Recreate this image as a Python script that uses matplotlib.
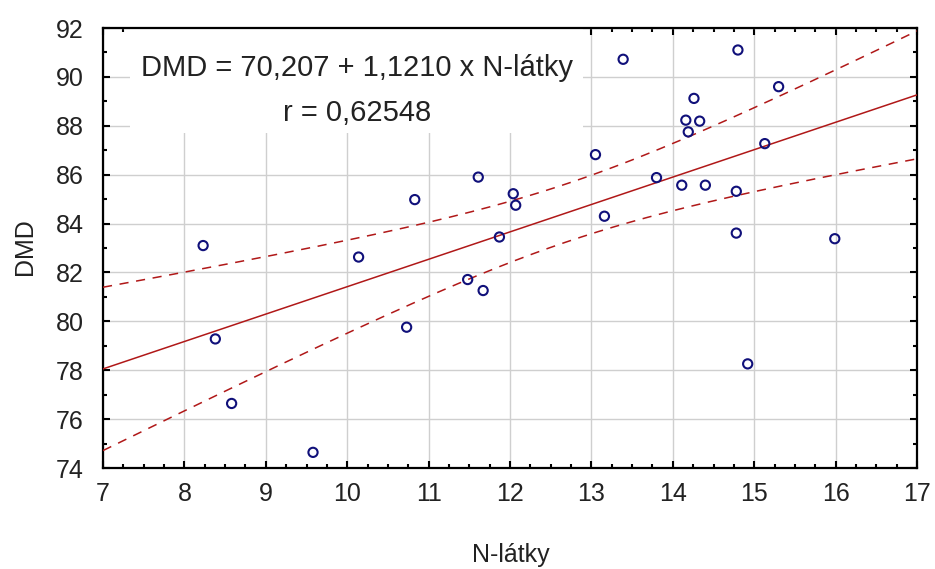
import numpy as np
import matplotlib
matplotlib.use("Agg")
import matplotlib.pyplot as plt
from matplotlib.patches import Rectangle
from matplotlib.ticker import MultipleLocator

# data
n_latky = [8.23, 8.38, 8.58, 9.58, 10.14, 10.73, 10.83, 11.48, 11.61, 11.67,
           11.87, 12.04, 12.07, 13.05, 13.16, 13.39, 13.80, 14.11, 14.16, 14.19,
           14.26, 14.33, 14.40, 14.78, 14.78, 14.80, 14.92, 15.13, 15.30, 15.99]
dmd = [83.10, 79.28, 76.64, 74.64, 82.63, 79.76, 84.98, 81.71, 85.90, 81.26,
       83.45, 85.22, 84.75, 86.82, 84.30, 90.72, 85.88, 85.57, 88.23, 87.75,
       89.12, 88.19, 85.57, 85.32, 83.61, 91.10, 78.26, 87.27, 89.60, 83.38]
intercept = 70.207
slope = 1.1210
t_975 = 2.048  # t(0.975, n-2)

x = np.array(n_latky)
y = np.array(dmd)

plt.rcParams['font.family'] = ['Liberation Sans', 'DejaVu Sans']

fig = plt.figure(figsize=(9.35, 5.69), dpi=100, facecolor='w')
ax = fig.add_axes([103/935, 1 - 468/569, 814/935, 440/569])

ax.set_xlim(7, 17)
ax.set_ylim(74, 92)
ax.xaxis.set_major_locator(MultipleLocator(1))
ax.xaxis.set_minor_locator(MultipleLocator(0.25))
ax.yaxis.set_major_locator(MultipleLocator(2))
ax.yaxis.set_minor_locator(MultipleLocator(1))
ax.grid(True, which='major', color='#cfcfcf', linewidth=1.0, zorder=0)
ax.set_axisbelow(True)

ax.tick_params(which='both', direction='in', top=True, right=True,
               width=1.5, color='black', labelsize=18, labelcolor='#222222')
ax.tick_params(which='major', length=5)
ax.tick_params(which='minor', length=3)
ax.tick_params(axis='x', pad=10)
ax.tick_params(axis='y', pad=14)
for s in ax.spines.values():
    s.set_linewidth(1.6)

# regression line + 95% confidence band
xs = np.linspace(7, 17, 200)
yhat = intercept + slope * xs
n = len(x)
resid = y - (intercept + slope * x)
s_err = np.sqrt(np.sum(resid ** 2) / (n - 2))
sxx = np.sum((x - x.mean()) ** 2)
half = t_975 * s_err * np.sqrt(1.0 / n + (xs - x.mean()) ** 2 / sxx)

red = '#b01818'
ax.plot(xs, yhat, color=red, linewidth=1.1, zorder=3)
ax.plot(xs, yhat + half, color=red, linewidth=1.1, dashes=(6, 5), zorder=3)
ax.plot(xs, yhat - half, color=red, linewidth=1.1, dashes=(6, 5), zorder=3)

ax.scatter(x, y, s=44, facecolors='none', edgecolors='#10107a',
           linewidths=1.5, zorder=4)

# white box behind the equation
ax.add_patch(Rectangle((27/814, 335/440), 453/814, 105/440,
                       transform=ax.transAxes, facecolor='white',
                       edgecolor='none', zorder=2))
ax.text(254/814, 1 - 48/440, 'DMD = 70,207 + 1,1210 x N-látky',
        transform=ax.transAxes, ha='center', va='baseline', fontsize=21,
        color='#222222', zorder=5)
ax.text(254/814, 1 - 93/440, 'r = 0,62548',
        transform=ax.transAxes, ha='center', va='baseline', fontsize=21,
        color='#222222', zorder=5)

fig.text(511/935, 1 - 562/569, 'N-látky', ha='center', va='baseline',
         fontsize=18, color='#222222')
fig.text(25/935, 1 - 247/569, 'DMD', ha='center', va='center',
         rotation=90, fontsize=18, color='#222222')

fig.savefig('out.png', dpi=100)
